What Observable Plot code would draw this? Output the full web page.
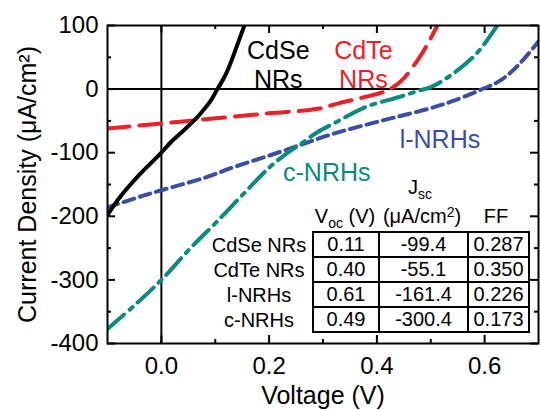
<!DOCTYPE html>
<html><head><meta charset="utf-8">
<script src="https://cdn.jsdelivr.net/npm/d3@7"></script>
<script src="https://cdn.jsdelivr.net/npm/@observablehq/plot@0.6"></script>
<style>
body{margin:0;background:#fff;}
#wrap{position:relative;width:540px;height:410px;font-family:"Liberation Sans",Arial,sans-serif;color:#000;}
#wrap svg{position:absolute;left:0;top:0;}
.tbl{position:absolute;border-collapse:collapse;table-layout:fixed;font-size:20px;}
.tbl td{border:2px solid #000;padding:0;height:23px;line-height:23px;text-align:center;}
.ov{position:absolute;font-size:20px;line-height:20px;text-align:center;white-space:nowrap;}
.ov sub,.ov sup{font-size:14px;line-height:0;}
.ov sub{vertical-align:-5px;}
.ov sup{vertical-align:6px;}
</style></head><body><div id="wrap"></div><script>
// ---- data ----
const cdseV = [-0.1, -0.076, -0.039, 0, 0.017, 0.035, 0.066, 0.078, 0.091, 0.104, 0.117, 0.128, 0.142, 0.154, 0.165];
const cdseJ = [-198, -169, -133, -100, -84, -70, -45, -33, -19, 0, 19, 40, 72, 100, 128];
const cdteV = [-0.1, 0, 0.1, 0.2, 0.29, 0.33, 0.37, 0.41, 0.43, 0.45, 0.476, 0.495, 0.511, 0.52];
const cdteJ = [-62, -54, -46, -38, -31, -22, -14, -5, 3, 17, 46, 72, 98, 112];
const lnrhV = [-0.1, -0.05, 0, 0.078, 0.14, 0.202, 0.264, 0.32, 0.38, 0.44, 0.5, 0.54, 0.59, 0.63, 0.665, 0.7];
const lnrhJ = [-186, -172, -159, -140, -121, -104, -86, -70, -56, -43, -30, -19, -2, 14, 40, 75];
const cnrhV = [-0.1, -0.05, 0, 0.054, 0.1, 0.159, 0.202, 0.236, 0.264, 0.291, 0.32, 0.38, 0.443, 0.48, 0.5, 0.541, 0.585, 0.622, 0.64];
const cnrhJ = [-377, -340, -300, -250, -211, -159, -122, -99, -83, -67, -54, -28, -12, -2, 3, 24, 56, 98, 120];

const xMajor = [0, 0.2, 0.4, 0.6];
const xMinor = [0.1, 0.3, 0.5];
const yMajor = [100, 0, -100, -200, -300, -400];
const yMinor = [50, -50, -150, -250, -350];

const labelText = ["CdSe\nNRs", "CdTe\nNRs", "l-NRHs", "c-NRHs"];
const labelV = [0.217, 0.375, 0.517, 0.307];
const labelJ = [39, 39, -78, -130];

const tableRows = ["CdSe NRs", "CdTe NRs", "l-NRHs", "c-NRHs"];
const vocValues = [0.11, 0.40, 0.61, 0.49];
const jscValues = [-99.4, -55.1, -161.4, -300.4];
const ffValues = [0.287, 0.350, 0.226, 0.173];

// ---- styles ----
const colors = ["#000000", "#ec2127", "#3b4ea6", "#0b8a7f"];
const dashes = [null, "22,10", "11,6", "22,7,4,7"];

const W = 540, H = 410, mL = 107, mR = 2, mT = 25, mB = 67;
const innerW = W - mL - mR, innerH = H - mT - mB;

const seriesList = [
  {V: cdseV, J: cdseJ},
  {V: cdteV, J: cdteJ},
  {V: lnrhV, J: lnrhJ},
  {V: cnrhV, J: cnrhJ}
];
const toRows = s => s.V.map((v, k) => ({V: v, J: s.J[k]}));
const drawOrder = [2, 3, 1, 0];

const lineMarks = drawOrder.map(idx => {
  const s = seriesList[idx];
  return Plot.line(toRows(s), {
    x: "V", y: "J", stroke: colors[idx], strokeWidth: 4,
    strokeDasharray: dashes[idx] || undefined, curve: "catmull-rom", clip: true
  });
});

const labels = labelText.map((t, k) => ({t, V: labelV[k], J: labelJ[k], c: k}));

const fmtY = d => String(d);
const plot = Plot.plot({
  width: W, height: H,
  marginLeft: mL, marginRight: mR, marginTop: mT, marginBottom: mB,
  x: {domain: [-0.1, 0.7]},
  y: {domain: [-400, 100]},
  style: {fontFamily: '"Liberation Sans", Arial, sans-serif', fontSize: "24px", color: "#000", background: "transparent", overflow: "visible"},
  marks: [
    Plot.axisX(xMajor, {tickSize: 0, tickPadding: 13, tickFormat: d3.format(".1f"), label: null, fontSize: 24}),
    Plot.axisY(yMajor, {tickSize: 0, tickPadding: 9, tickFormat: fmtY, label: null, fontSize: 24}),
    Plot.ruleY([0], {stroke: "#000", strokeWidth: 2}),
    Plot.ruleX([0], {stroke: "#000", strokeWidth: 2}),
    // inward ticks
    Plot.ruleX(xMajor, {insetTop: innerH - 8, strokeWidth: 2}),
    Plot.ruleX(xMajor, {insetBottom: innerH - 8, strokeWidth: 2}),
    Plot.ruleX(xMinor, {insetTop: innerH - 4, strokeWidth: 2}),
    Plot.ruleX(xMinor, {insetBottom: innerH - 4, strokeWidth: 2}),
    Plot.ruleY(yMajor, {insetRight: innerW - 8, strokeWidth: 2}),
    Plot.ruleY(yMajor, {insetLeft: innerW - 8, strokeWidth: 2}),
    Plot.ruleY(yMinor, {insetRight: innerW - 4, strokeWidth: 2}),
    Plot.ruleY(yMinor, {insetLeft: innerW - 4, strokeWidth: 2}),
    ...lineMarks,
    Plot.frame({stroke: "#000", strokeWidth: 2}),
    Plot.text(labels, {x: "V", y: "J", text: "t", fill: d => colors[d.c], fontSize: 25, lineHeight: 1.18, textAnchor: "middle"}),
    Plot.text(["Voltage (V)"], {text: d => d, frameAnchor: "bottom", dy: 52, fontSize: 25, textAnchor: "middle", lineAnchor: "middle"}),
    Plot.text(["Current Density (μA/cm²)"], {text: d => d, frameAnchor: "left", dx: -80, rotate: -90, fontSize: 25, textAnchor: "middle", lineAnchor: "middle"})
  ]
});
const wrap = document.getElementById("wrap");
wrap.appendChild(plot);

// ---- table overlay ----
const tbl = document.createElement("table");
tbl.className = "tbl";
tbl.style.left = "312px";
tbl.style.top = "231px";
const cg = document.createElement("colgroup");
[66, 89, 61].forEach(w => { const c = document.createElement("col"); c.style.width = w + "px"; cg.appendChild(c); });
tbl.appendChild(cg);
tableRows.forEach((r, k) => {
  const tr = document.createElement("tr");
  [vocValues[k].toFixed(2), jscValues[k].toFixed(1), ffValues[k].toFixed(3)].forEach(v => {
    const td = document.createElement("td"); td.textContent = v; tr.appendChild(td);
  });
  tbl.appendChild(tr);
});
wrap.appendChild(tbl);

tableRows.forEach((r, k) => {
  const d = document.createElement("div");
  d.className = "ov";
  d.textContent = r;
  d.style.left = "199px"; d.style.width = "120px";
  d.style.top = (235 + 25 * k) + "px";
  wrap.appendChild(d);
});
const headers = [
  {html: "V<sub>oc</sub> (V)", cx: 345, top: 206},
  {html: "J<sub>sc</sub>", cx: 420, top: 177},
  {html: "(μA/cm<sup>2</sup>)", cx: 422, top: 206},
  {html: "FF", cx: 496, top: 206}
];
headers.forEach(h => {
  const d = document.createElement("div");
  d.className = "ov";
  d.innerHTML = h.html;
  d.style.left = (h.cx - 60) + "px"; d.style.width = "120px";
  d.style.top = h.top + "px";
  wrap.appendChild(d);
});
</script></body></html>
